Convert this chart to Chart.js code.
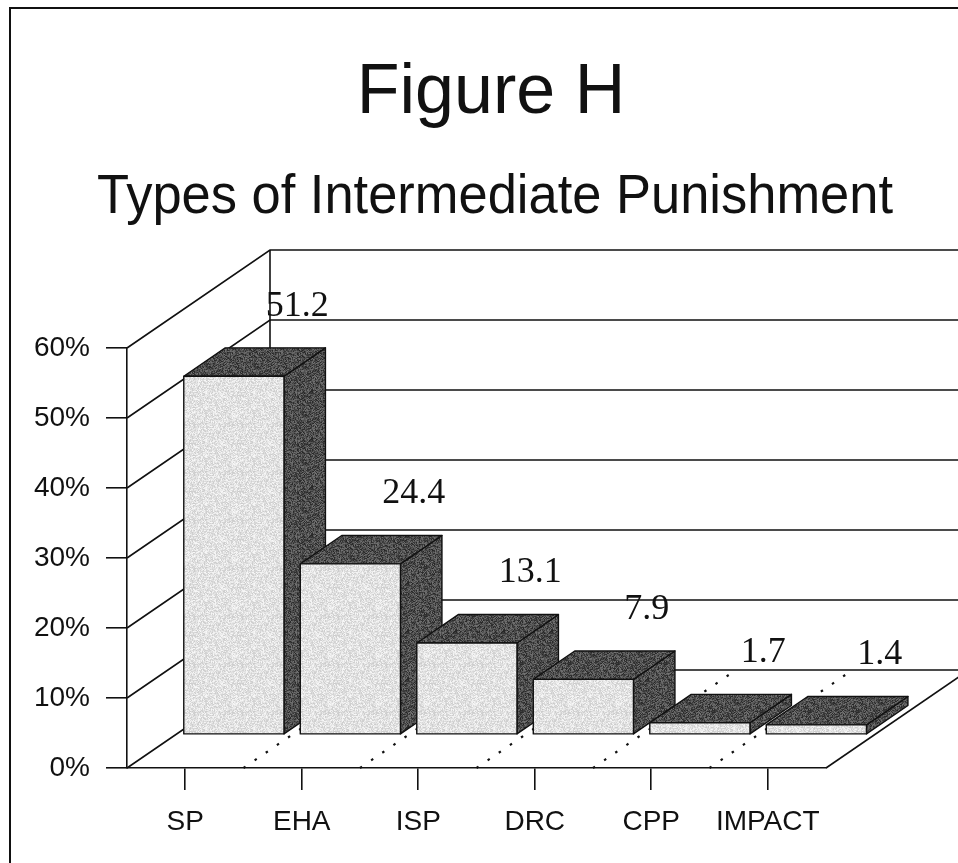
<!DOCTYPE html>
<html>
<head>
<meta charset="utf-8">
<script src="https://cdn.jsdelivr.net/npm/chart.js@4.4.0/dist/chart.umd.min.js"></script>
<style>
  body { margin: 0; background: #fff; }
  canvas { display: block; }
</style>
</head>
<body>
<canvas id="myChart" width="958" height="863"></canvas>
<script>
const labels = ['SP', 'EHA', 'ISP', 'DRC', 'CPP', 'IMPACT'];
const values = [51.2, 24.4, 13.1, 7.9, 1.7, 1.4];
const yTicks = [0, 10, 20, 30, 40, 50, 60];
const titleText = 'Figure H';
const subtitleText = 'Types of Intermediate Punishment';

// full depth of the 3d box, and where the bars sit inside it
const DEPTH_X = 143;
const DEPTH_Y = -98;
const BAR_FRONT = 0.34;
const BAR_BACK = 0.63;
const LINE = '#111';

function noisePattern(ctx, base, spread, seed) {
    const c = document.createElement('canvas');
    c.width = 48;
    c.height = 48;
    const g = c.getContext('2d');
    const img = g.createImageData(48, 48);
    for (let i = 0; i < 48 * 48; i++) {
        seed = (seed * 1103515245 + 12345) & 0x7fffffff;
        const v = base + ((seed >> 8) % (2 * spread + 1)) - spread;
        img.data[i * 4] = img.data[i * 4 + 1] = img.data[i * 4 + 2] = v;
        img.data[i * 4 + 3] = 255;
    }
    g.putImageData(img, 0, 0);
    return ctx.createPattern(c, 'repeat');
}

const box3d = {
    id: 'box3d',
    beforeDatasetsDraw(chart) {
        const { ctx, chartArea: a, scales: { x, y } } = chart;
        ctx.save();
        ctx.strokeStyle = LINE;
        ctx.lineWidth = 1.6;

        // side wall diagonals + back wall grid lines
        yTicks.forEach(v => {
            const py = y.getPixelForValue(v);
            ctx.beginPath();
            ctx.moveTo(a.left, py);
            ctx.lineTo(a.left + DEPTH_X, py + DEPTH_Y);
            ctx.lineTo(a.right + DEPTH_X, py + DEPTH_Y);
            ctx.stroke();
        });

        // back corner line
        ctx.beginPath();
        ctx.moveTo(a.left + DEPTH_X, y.getPixelForValue(0) + DEPTH_Y);
        ctx.lineTo(a.left + DEPTH_X, y.getPixelForValue(60) + DEPTH_Y);
        ctx.stroke();

        // floor right edge
        const y0 = y.getPixelForValue(0);
        ctx.beginPath();
        ctx.moveTo(a.right, y0);
        ctx.lineTo(a.right + DEPTH_X, y0 + DEPTH_Y);
        ctx.stroke();

        // dotted floor lines between categories
        const band = (a.right - a.left) / labels.length;
        ctx.setLineDash([2.5, 11]);
        ctx.lineWidth = 2.2;
        for (let i = 1; i < labels.length; i++) {
            const px = a.left + band * i;
            ctx.beginPath();
            ctx.moveTo(px, y0);
            ctx.lineTo(px + DEPTH_X, y0 + DEPTH_Y);
            ctx.stroke();
        }
        ctx.restore();
    },
    afterDatasetsDraw(chart) {
        const { ctx } = chart;
        const meta = chart.getDatasetMeta(0);
        const light = noisePattern(ctx, 226, 22, 11);
        const dark = noisePattern(ctx, 76, 40, 5);
        const bdx = (BAR_BACK - BAR_FRONT) * DEPTH_X;
        const bdy = (BAR_BACK - BAR_FRONT) * DEPTH_Y;

        ctx.save();
        ctx.strokeStyle = LINE;
        ctx.lineWidth = 1.4;
        ctx.lineJoin = 'round';
        meta.data.forEach(bar => {
            const p = bar.getProps(['x', 'y', 'base', 'width'], true);
            const x0 = p.x - p.width / 2 + BAR_FRONT * DEPTH_X;
            const x1 = x0 + p.width;
            const top = p.y + BAR_FRONT * DEPTH_Y;
            const bot = p.base + BAR_FRONT * DEPTH_Y;

            // right side
            ctx.beginPath();
            ctx.moveTo(x1, top);
            ctx.lineTo(x1 + bdx, top + bdy);
            ctx.lineTo(x1 + bdx, bot + bdy);
            ctx.lineTo(x1, bot);
            ctx.closePath();
            ctx.fillStyle = dark;
            ctx.fill();
            ctx.stroke();

            // top
            ctx.beginPath();
            ctx.moveTo(x0, top);
            ctx.lineTo(x1, top);
            ctx.lineTo(x1 + bdx, top + bdy);
            ctx.lineTo(x0 + bdx, top + bdy);
            ctx.closePath();
            ctx.fillStyle = dark;
            ctx.fill();
            ctx.stroke();

            // front
            ctx.fillStyle = light;
            ctx.fillRect(x0, top, p.width, bot - top);
            ctx.strokeRect(x0, top, p.width, bot - top);
        });

        // value labels, placed on the back wall
        ctx.fillStyle = '#111';
        ctx.font = '36px "Liberation Serif", "Times New Roman", serif';
        ctx.textAlign = 'center';
        ctx.textBaseline = 'alphabetic';
        meta.data.forEach((bar, i) => {
            const p = bar.getProps(['x', 'y'], true);
            ctx.fillText(values[i].toFixed(1), p.x + 112, p.y + DEPTH_Y + 4);
        });
        ctx.restore();
    },
    afterDraw(chart) {
        const { ctx } = chart;
        ctx.save();
        ctx.fillStyle = '#111';
        ctx.textAlign = 'center';
        ctx.textBaseline = 'alphabetic';
        ctx.font = '70px Arial, "Liberation Sans", sans-serif';
        ctx.fillText(titleText, 491, 113);
        ctx.font = '56px Arial, "Liberation Sans", sans-serif';
        ctx.fillText(subtitleText, 495, 213, 796);

        // frame
        ctx.strokeStyle = LINE;
        ctx.lineWidth = 2;
        ctx.strokeRect(10, 8, 1000, 1000);
        ctx.restore();
    }
};

const data = {
    labels: labels,
    datasets: [{
        label: 'Percent',
        data: values,
        backgroundColor: 'rgba(0,0,0,0)',
        borderWidth: 0,
        barPercentage: 0.86,
        categoryPercentage: 1
    }]
};

const config = {
    type: 'bar',
    data: data,
    options: {
        responsive: false,
        animation: false,
        layout: {
            padding: { top: 348, right: 132, bottom: 0, left: 0 }
        },
        scales: {
            x: {
                offset: true,
                grid: { offset: false, drawOnChartArea: false, tickLength: 22, color: LINE, lineWidth: 1.6 },
                border: { color: LINE, width: 1.6 },
                ticks: { color: '#111', font: { family: 'Arial', size: 28 }, padding: 15 },
                afterFit(scale) { scale.height = 95; }
            },
            y: {
                min: 0,
                max: 60,
                ticks: {
                    stepSize: 10,
                    color: '#111',
                    font: { family: 'Arial', size: 28 },
                    padding: 16,
                    callback: v => v + '%'
                },
                grid: { drawOnChartArea: false, tickLength: 21, color: LINE, lineWidth: 1.6 },
                border: { color: LINE, width: 1.6 },
                afterFit(scale) { scale.width = 127; }
            }
        },
        plugins: {
            legend: { display: false },
            tooltip: { enabled: false },
            title: { display: false }
        }
    },
    plugins: [box3d]
};

const myChart = new Chart(
    document.getElementById('myChart'),
    config
);
</script>
</body>
</html>
